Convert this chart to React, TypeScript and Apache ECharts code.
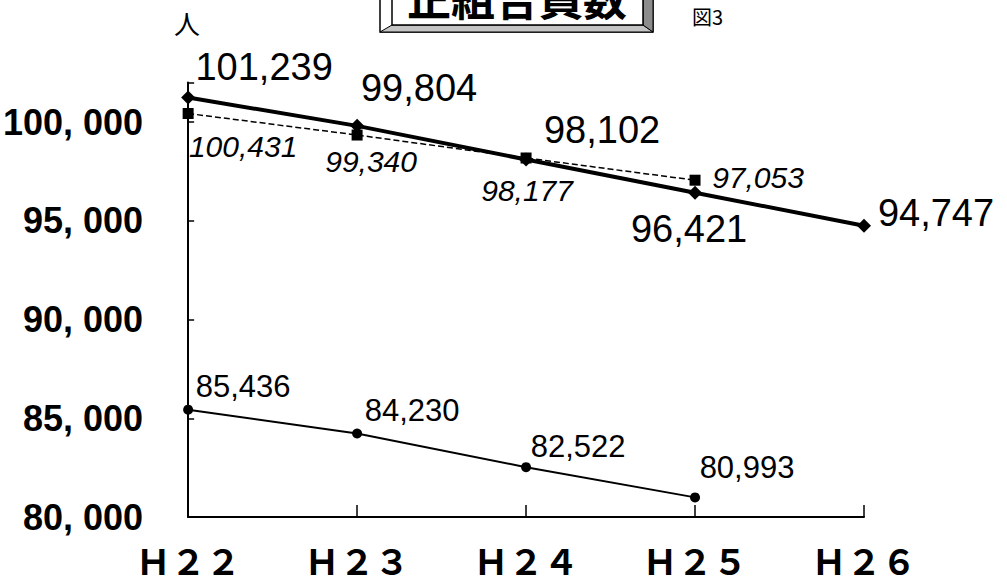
import React, { useEffect, useRef } from "react";
import * as echarts from "echarts";

const categories = ["Ｈ２２", "Ｈ２３", "Ｈ２４", "Ｈ２５", "Ｈ２６"];
const seriesMain = [101239, 99804, 98102, 96421, 94747];
const seriesDashed = [100431, 99340, 98177, 97053];
const seriesCircle = [85436, 84230, 82522, 80993];
const yTicks = [80000, 85000, 90000, 95000, 100000];

// label offsets (px) relative to each point — layout only
const mainOffsets = [[76, -31], [62, -38], [76, -29], [-6, 36], [72, -13]];
const dashedOffsets = [[55, 33], [14, 26], [1, 32], [63, -3]];
const circleOffsets = [[55, -23], [55, -23], [52, -21], [52, -30]];

const fmt = (v: number) => v.toLocaleString("en-US");

export default function App() {
  const ref = useRef<HTMLDivElement>(null);
  useEffect(() => {
    if (!ref.current) return;
    const chart = echarts.init(ref.current, undefined, { renderer: "svg" });
    const sans = "'Liberation Sans', Arial, sans-serif";
    const cjk = "'Noto Sans CJK JP', sans-serif";
    const mk = (vals: number[], offs: number[][], size: number, italic: boolean) =>
      vals.map((v, i) => ({
        value: v,
        label: {
          show: true,
          position: "inside",
          offset: offs[i],
          formatter: fmt(v),
          fontSize: size,
          fontStyle: italic ? "italic" : "normal",
          fontFamily: sans,
          color: "#000",
        },
      }));
    chart.setOption({
      animation: false,
      backgroundColor: "#fff",
      grid: { left: 183, right: 143, top: 82.5, bottom: 68, containLabel: false },
      xAxis: {
        type: "category",
        data: categories,
        boundaryGap: false,
        axisLine: { show: true, lineStyle: { color: "#000", width: 2 } },
        axisTick: { show: true, inside: true, length: 12, lineStyle: { color: "#000", width: 1.5 } },
        axisLabel: {
          margin: 25,
          fontSize: 35,
          fontWeight: "bold",
          fontFamily: cjk,
          color: "#000",
        },
        splitLine: { show: false },
      },
      yAxis: {
        type: "value",
        min: 80000,
        max: 102000,
        interval: 5000,
        axisLine: { show: true, lineStyle: { color: "#000", width: 2 } },
        axisTick: { show: true, inside: true, length: 6, lineStyle: { color: "#000", width: 1.5 } },
        splitLine: { show: false },
        axisLabel: {
          margin: 45,
          fontSize: 36,
          fontWeight: "bold",
          fontFamily: sans,
          color: "#000",
          formatter: (v: number) =>
            yTicks.includes(v) ? `${Math.round(v / 1000)}, 000` : "",
        },
      },
      series: [
        {
          type: "line",
          data: mk(seriesCircle, circleOffsets, 31, false),
          symbol: "circle",
          symbolSize: 10,
          itemStyle: { color: "#000" },
          lineStyle: { color: "#000", width: 2 },
          z: 3,
        },
        {
          type: "line",
          data: mk(seriesDashed, dashedOffsets, 30, true),
          symbol: "rect",
          symbolSize: 11,
          itemStyle: { color: "#000" },
          lineStyle: { color: "#000", width: 1.5, type: [6, 3] },
          z: 3,
        },
        {
          type: "line",
          data: mk(seriesMain, mainOffsets, 38, false),
          symbol: "diamond",
          symbolSize: 14,
          itemStyle: { color: "#000" },
          lineStyle: { color: "#000", width: 4 },
          z: 4,
        },
      ],
      graphic: [
        {
          type: "polygon",
          shape: { points: [[380, -20], [653, -20], [653, 32], [380, 32]] },
          style: { fill: "#fff", stroke: "#000", lineWidth: 1.5 },
        },
        {
          type: "polygon",
          shape: { points: [[380, 32], [653, 32], [643, 25], [392, 25]] },
          style: { fill: "#c4c4c4", stroke: "#000", lineWidth: 1 },
        },
        {
          type: "polygon",
          shape: { points: [[643, -20], [653, -20], [653, 32], [643, 25]] },
          style: { fill: "#8c8c8c", stroke: "#000", lineWidth: 1 },
        },
        {
          type: "rect",
          shape: { x: 392, y: -20, width: 251, height: 45 },
          style: { fill: "#fff", stroke: "#000", lineWidth: 1.5 },
        },
        {
          type: "text",
          x: 517,
          y: -3,
          style: {
            text: "正組合員数",
            fontSize: 44,
            fontWeight: "bold",
            fontFamily: cjk,
            fill: "#000",
            align: "center",
            verticalAlign: "middle",
          },
        },
        {
          type: "text",
          x: 692,
          y: 16,
          style: {
            text: "図3",
            fontSize: 20,
            fontFamily: cjk,
            fill: "#000",
            align: "left",
            verticalAlign: "middle",
          },
        },
        {
          type: "text",
          x: 187,
          y: 22,
          style: {
            text: "人",
            fontSize: 26,
            fontFamily: cjk,
            fill: "#000",
            align: "center",
            verticalAlign: "middle",
          },
        },
      ],
    });
    return () => chart.dispose();
  }, []);
  return (
    <div
      ref={ref}
      style={{ position: "fixed", left: 0, top: 0, width: 1007, height: 585 }}
    />
  );
}
